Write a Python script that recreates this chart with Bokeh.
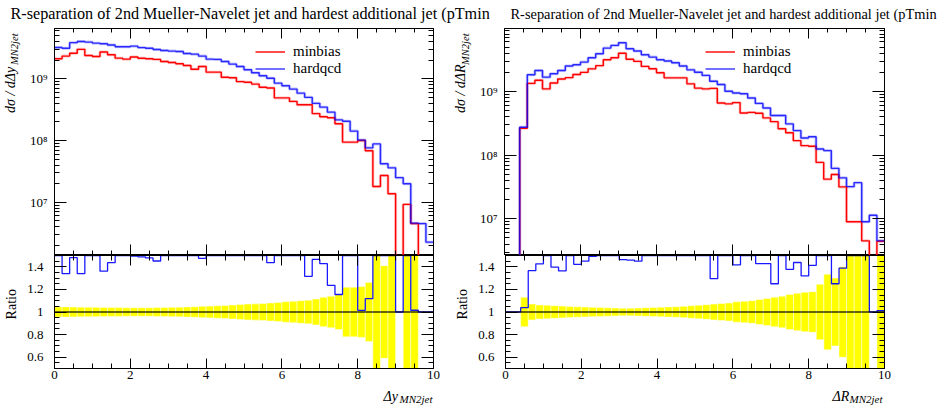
import math
from bokeh.plotting import figure
from bokeh.layouts import column, row
from bokeh.models import (Range1d, LinearAxis, LogAxis, FixedTicker,
                          CustomJSTickFormatter, Legend, LegendItem)
from bokeh.core.properties import value
from bokeh.embed import file_html
from bokeh.resources import INLINE

# ---------------------------------------------------------------- data
title_text = "R-separation of 2nd Mueller-Navelet jet and hardest additional jet (pTmin"
series_names = ["minbias", "hardqcd"]

bin_edges = [0.0, 0.2, 0.4, 0.6, 0.8, 1.0, 1.2, 1.4, 1.6, 1.8,
             2.0, 2.2, 2.4, 2.6, 2.8, 3.0, 3.2, 3.4, 3.6, 3.8,
             4.0, 4.2, 4.4, 4.6, 4.8, 5.0, 5.2, 5.4, 5.6, 5.8,
             6.0, 6.2, 6.4, 6.6, 6.8, 7.0, 7.2, 7.4, 7.6, 7.8,
             8.0, 8.2, 8.4, 8.6, 8.8, 9.0, 9.2, 9.4, 9.6, 9.8, 10.0]

# left panel: delta y
dy_minbias = [2.11e9, 2.33e9, 2.60e9, 3.00e9, 2.39e9, 2.30e9, 2.71e9, 2.45e9, 2.16e9, 2.08e9,
              2.26e9, 2.15e9, 2.11e9, 2.06e9, 1.91e9, 1.84e9, 1.75e9, 1.64e9, 1.43e9, 1.58e9,
              1.28e9, 1.28e9, 1.06e9, 1.04e9, 9.0e8, 8.8e8, 8.2e8, 7.3e8, 7.1e8, 4.9e8,
              4.9e8, 4.3e8, 3.8e8, 3.8e8, 2.73e8, 2.43e8, 2.33e8, 1.87e8, 9.4e7, 9.4e7,
              1.0e8, 6.8e7, 1.8e7, 2.7e7, 1.37e7, 0.0, 9.2e6, 4.5e6, 0.0, 0.0]
dy_hardqcd = [3.21e9, 3.12e9, 3.85e9, 4.02e9, 3.93e9, 3.78e9, 3.69e9, 3.52e9, 3.30e9, 3.30e9,
              3.38e9, 3.20e9, 3.12e9, 2.99e9, 2.88e9, 2.81e9, 2.77e9, 2.57e9, 2.51e9, 2.33e9,
              2.08e9, 2.06e9, 1.91e9, 1.73e9, 1.58e9, 1.40e9, 1.25e9, 1.12e9, 1.02e9, 8.5e8,
              7.7e8, 6.8e8, 5.85e8, 5.0e8, 4.0e8, 3.47e8, 2.88e8, 2.16e8, 2.05e8, 1.42e8,
              1.015e8, 7.6e7, 8.8e7, 4.2e7, 3.6e7, 2.5e7, 1.99e7, 4.57e6, 4.5e6, 2.25e6]
dy_relerr = [0.045, 0.045, 0.044, 0.043, 0.042, 0.041, 0.040, 0.040, 0.039, 0.038,
             0.038, 0.038, 0.038, 0.039, 0.040, 0.041, 0.043, 0.045, 0.047, 0.050,
             0.052, 0.055, 0.058, 0.062, 0.066, 0.070, 0.072, 0.076, 0.080, 0.085,
             0.090, 0.095, 0.100, 0.105, 0.115, 0.130, 0.140, 0.155, 0.220, 0.220,
             0.225, 0.260, 0.800, 0.410, 0.800, 0.0, 0.800, 0.800, 0.0, 0.0]

# right panel: delta R
dR_minbias = [0.0, 0.0, 2.64e8, 1.34e9, 1.50e9, 1.10e9, 1.36e9, 1.57e9, 1.65e9, 1.85e9,
              2.00e9, 2.27e9, 2.55e9, 3.16e9, 3.39e9, 3.99e9, 3.22e9, 2.98e9, 2.48e9, 2.28e9,
              1.97e9, 1.64e9, 1.64e9, 1.64e9, 1.32e9, 1.13e9, 1.10e9, 1.12e9, 6.6e8, 6.4e8,
              6.7e8, 4.6e8, 4.7e8, 4.55e8, 3.85e8, 3.36e8, 2.6e8, 2.25e8, 1.69e8, 1.41e8,
              1.38e8, 7.7e7, 4.2e7, 4.96e7, 3.17e7, 9.0e6, 9.0e6, 4.5e6, 0.0, 4.45e6]
dR_hardqcd = [0.0, 0.0, 2.74e8, 1.83e9, 2.14e9, 1.68e9, 1.90e9, 2.14e9, 2.51e9, 2.63e9,
              2.90e9, 3.39e9, 3.92e9, 4.81e9, 5.30e9, 5.84e9, 4.70e9, 4.32e9, 3.78e9, 3.47e9,
              3.16e9, 3.01e9, 2.83e9, 2.51e9, 2.19e9, 2.01e9, 1.79e9, 1.45e9, 1.29e9, 1.01e9,
              9.5e8, 9.2e8, 7.9e8, 6.5e8, 5.5e8, 4.2e8, 4.2e8, 3.1e8, 2.43e8, 1.86e8,
              1.95e8, 1.25e8, 1.18e8, 6.2e7, 4.4e7, 3.2e7, 3.7e7, 9.0e6, 1.14e7, 4.5e6]
dR_relerr = [0.0, 0.0, 0.130, 0.070, 0.062, 0.060, 0.056, 0.052, 0.049, 0.046,
             0.044, 0.042, 0.040, 0.037, 0.035, 0.033, 0.034, 0.036, 0.038, 0.040,
             0.042, 0.045, 0.047, 0.050, 0.055, 0.060, 0.065, 0.070, 0.075, 0.080,
             0.090, 0.095, 0.100, 0.110, 0.120, 0.130, 0.140, 0.155, 0.165, 0.175,
             0.180, 0.245, 0.335, 0.300, 0.400, 0.800, 0.800, 0.800, 0.0, 0.800]

x_major = [0, 2, 4, 6, 8, 10]
x_minor = [0.5, 1.0, 1.5, 2.5, 3.0, 3.5, 4.5, 5.0, 5.5, 6.5, 7.0, 7.5, 8.5, 9.0, 9.5]
log_major = [1e6, 1e7, 1e8, 1e9, 1e10]
log_minor = [k * 10.0 ** n for n in (6, 7, 8, 9) for k in (2, 3, 4, 5, 6, 7, 8, 9)]
ratio_major = [0.6, 0.8, 1.0, 1.2, 1.4]
ratio_minor = [0.5, 0.55, 0.65, 0.7, 0.75, 0.85, 0.9, 0.95, 1.05, 1.1, 1.15,
               1.25, 1.3, 1.35, 1.45, 1.5]

# ---------------------------------------------------------------- layout (page px)
FONT = "Liberation Serif"
PAGE_W = 946
TITLE_H = 24            # 0..24
MAIN_H = 231            # 24..255, frame 28..255
MAIN_TOP = 4
RATIO_H = 131           # 255..386, frame 255..368
RATIO_BOT = 18
XLAB_H = 20             # 386..406
MAIN_Y0 = TITLE_H
RATIO_Y0 = TITLE_H + MAIN_H
XLAB_Y0 = RATIO_Y0 + RATIO_H

LOG_FMT = CustomJSTickFormatter(code="""
const e = Math.round(Math.log10(tick));
const s = {"0":"\u2070","1":"\u00b9","2":"\u00b2","3":"\u00b3","4":"\u2074","5":"\u2075",
           "6":"\u2076","7":"\u2077","8":"\u2078","9":"\u2079","-":"\u207b"};
return "10" + String(e).split("").map(c => s[c]).join("");
""")
RATIO_FMT = CustomJSTickFormatter(code="return Math.abs(tick - 1) < 1e-6 ? '1' : tick.toFixed(1);")


def style_axis(ax, major_in, minor_in, show_labels, standoff=0, horizontal=False):
    ax.major_tick_in = major_in
    ax.major_tick_out = 0
    ax.minor_tick_in = minor_in
    ax.minor_tick_out = 0
    ax.axis_line_color = "black"
    ax.axis_line_width = 1
    ax.major_tick_line_color = "black"
    ax.minor_tick_line_color = "black"
    ax.major_label_text_font = FONT
    ax.major_label_text_color = "black"
    ax.axis_label = None
    ax.axis_label_standoff = 0
    if show_labels:
        ax.major_label_text_font_size = "13px"
        ax.major_label_standoff = standoff
    else:
        ax.major_label_text_font_size = "1px"
        ax.major_label_standoff = 0
        ax.formatter = CustomJSTickFormatter(code="return '';")
        if horizontal:
            ax.major_label_orientation = "vertical"


def text_fig(width, height):
    f = figure(width=width, height=height, title=None, x_range=Range1d(0, width),
               y_range=Range1d(height, 0), min_border=0, toolbar_location=None,
               output_backend="svg", x_axis_location=None, y_axis_location=None)
    f.outline_line_color = None
    f.grid.visible = False
    f.background_fill_color = "white"
    f.border_fill_color = "white"
    return f


def put_text(f, x, y, txt, size, style="normal", angle=0.0, align="left"):
    # y is the vertical centre of the text line box
    f.text(x=[x], y=[y], text=[txt], text_font=value(FONT), text_font_size=size,
           text_font_style=style, angle=angle, text_align=align,
           text_baseline="middle", text_color="black")


def build_panel(page_x0, width, ylab_w, fx0, fx1, log_top, log_bot,
                minbias, hardqcd, relerr, var, ylab_base, xlab_px, xsub_px):
    fig_x0 = page_x0 + ylab_w
    fig_w = width - ylab_w
    bl = fx0 - fig_x0
    br = fig_x0 + fig_w - fx1
    xr = Range1d(bin_edges[0], bin_edges[-1])

    # ---------------- main plot
    pm = figure(width=fig_w, height=MAIN_H, title=None, x_range=xr,
                y_range=Range1d(10 ** log_bot, 10 ** log_top), y_axis_type="log",
                min_border_left=bl, min_border_right=br, min_border_top=MAIN_TOP,
                min_border_bottom=0, toolbar_location=None, output_backend="svg")
    pm.xgrid.visible = False
    pm.ygrid.visible = False
    pm.outline_line_color = "black"

    xt = FixedTicker(ticks=x_major, minor_ticks=x_minor)
    yt = FixedTicker(ticks=log_major, minor_ticks=log_minor)
    pm.xaxis[0].ticker = xt
    style_axis(pm.xaxis[0], 11, 5, False, horizontal=True)
    pm.yaxis[0].ticker = yt
    style_axis(pm.yaxis[0], 12, 5, True, standoff=7)
    pm.yaxis[0].formatter = LOG_FMT
    top_ax = LinearAxis(ticker=xt)
    style_axis(top_ax, 10, 4, False, horizontal=True)
    pm.add_layout(top_ax, "above")
    right_ax = LogAxis(ticker=yt)
    style_axis(right_ax, 12, 5, False)
    pm.add_layout(right_ax, "right")

    floor = 10 ** (log_bot - 3)

    def steps(vals):
        v = [a if a > 0 else floor for a in vals]
        return v + [v[-1]]

    pm.step(bin_edges, steps(minbias), mode="after", line_color="#ff0000",
            line_width=3.0, line_alpha=0.22)
    pm.step(bin_edges, steps(hardqcd), mode="after", line_color="#0000ff",
            line_width=3.0, line_alpha=0.22)
    r_mb = pm.step(bin_edges, steps(minbias), mode="after", line_color="#ff0000",
                   line_width=1.4)
    r_hq = pm.step(bin_edges, steps(hardqcd), mode="after", line_color="#0000ff",
                   line_width=1.4, line_alpha=0.8)

    leg = Legend(items=[LegendItem(label=value(series_names[0]), renderers=[r_mb]),
                        LegendItem(label=value(series_names[1]), renderers=[r_hq])],
                 location=(201, 178.5), orientation="vertical",
                 label_text_font=FONT, label_text_font_size="15px",
                 label_text_color="black",
                 glyph_width=30, glyph_height=17, label_height=17, label_standoff=8,
                 padding=0, spacing=0, margin=0,
                 border_line_color=None, background_fill_alpha=0.0)
    pm.add_layout(leg)

    # ---------------- ratio plot
    pr = figure(width=fig_w, height=RATIO_H, title=None, x_range=xr,
                y_range=Range1d(0.5, 1.5),
                min_border_left=bl, min_border_right=br, min_border_top=0,
                min_border_bottom=RATIO_BOT, toolbar_location=None, output_backend="svg")
    pr.xgrid.visible = False
    pr.ygrid.visible = False
    pr.outline_line_color = "black"

    pr.xaxis[0].ticker = xt
    style_axis(pr.xaxis[0], 10, 5, True, standoff=2)
    rt = FixedTicker(ticks=ratio_major, minor_ticks=ratio_minor)
    pr.yaxis[0].ticker = rt
    style_axis(pr.yaxis[0], 12, 5, True, standoff=11)
    pr.yaxis[0].formatter = RATIO_FMT
    top2 = LinearAxis(ticker=xt)
    style_axis(top2, 10, 5, False, horizontal=True)
    pr.add_layout(top2, "above")
    right2 = LinearAxis(ticker=rt)
    style_axis(right2, 12, 5, False)
    pr.add_layout(right2, "right")

    idx = [i for i, e in enumerate(relerr) if e > 0]
    pr.quad(left=[bin_edges[i] for i in idx], right=[bin_edges[i + 1] for i in idx],
            bottom=[1 - relerr[i] for i in idx], top=[1 + relerr[i] for i in idx],
            fill_color="#ffff00", line_color="white", line_width=0.6, line_alpha=0.8)

    ratio = [max(0.5, min(1.5, h / m)) if m > 0 else 1.0 for m, h in zip(minbias, hardqcd)]
    ref = [m / m if m > 0 else 1.0 for m in minbias]
    pr.step(bin_edges, ratio + [ratio[-1]], mode="after", line_color="#0000ff",
            line_width=1.3, line_alpha=0.9)
    pr.step(bin_edges, ref + [ref[-1]], mode="after", line_color="black",
            line_width=2.0, line_alpha=0.6)

    # ---------------- axis titles (separate text strips)
    ym = text_fig(ylab_w, MAIN_H)
    put_text(ym, ylab_base - 4.7 - page_x0, 110 - MAIN_Y0, "d\u03c3 / d\u0394" + var, "14px",
             "italic", math.pi / 2, "left")
    put_text(ym, ylab_base - 0.5 - page_x0, 29 - MAIN_Y0, "MN2jet", "10.5px",
             "italic", math.pi / 2, "right")
    yr = text_fig(ylab_w, RATIO_H)
    put_text(yr, ylab_base - 3.3 - page_x0, 311.5 - RATIO_Y0, "Ratio", "14px",
             "normal", math.pi / 2, "center")
    xl = text_fig(width, XLAB_H)
    put_text(xl, xlab_px - page_x0, 9.5, "\u0394" + var, "14px", "italic")
    put_text(xl, xsub_px - page_x0, 12.3, "MN2jet", "11px", "italic")

    return column(row(ym, pm), row(yr, pr), xl)


left = build_panel(0, 445, 22, 54, 433, 9.815, 6.136, dy_minbias, dy_hardqcd, dy_relerr,
                   "y", 14.5, 383, 399)
right = build_panel(445, PAGE_W - 445, 30, 504, 884, 9.99, 6.4234, dR_minbias, dR_hardqcd,
                    dR_relerr, "R", 465, 832, 849)

# ---------------- title strip
pt = text_fig(PAGE_W, TITLE_H)
put_text(pt, 10, 13, title_text, "16.2px")
put_text(pt, 510, 13, title_text, "14.4px")

p = column(pt, row(left, right))

open("out.html", "w").write(file_html(p, INLINE))
